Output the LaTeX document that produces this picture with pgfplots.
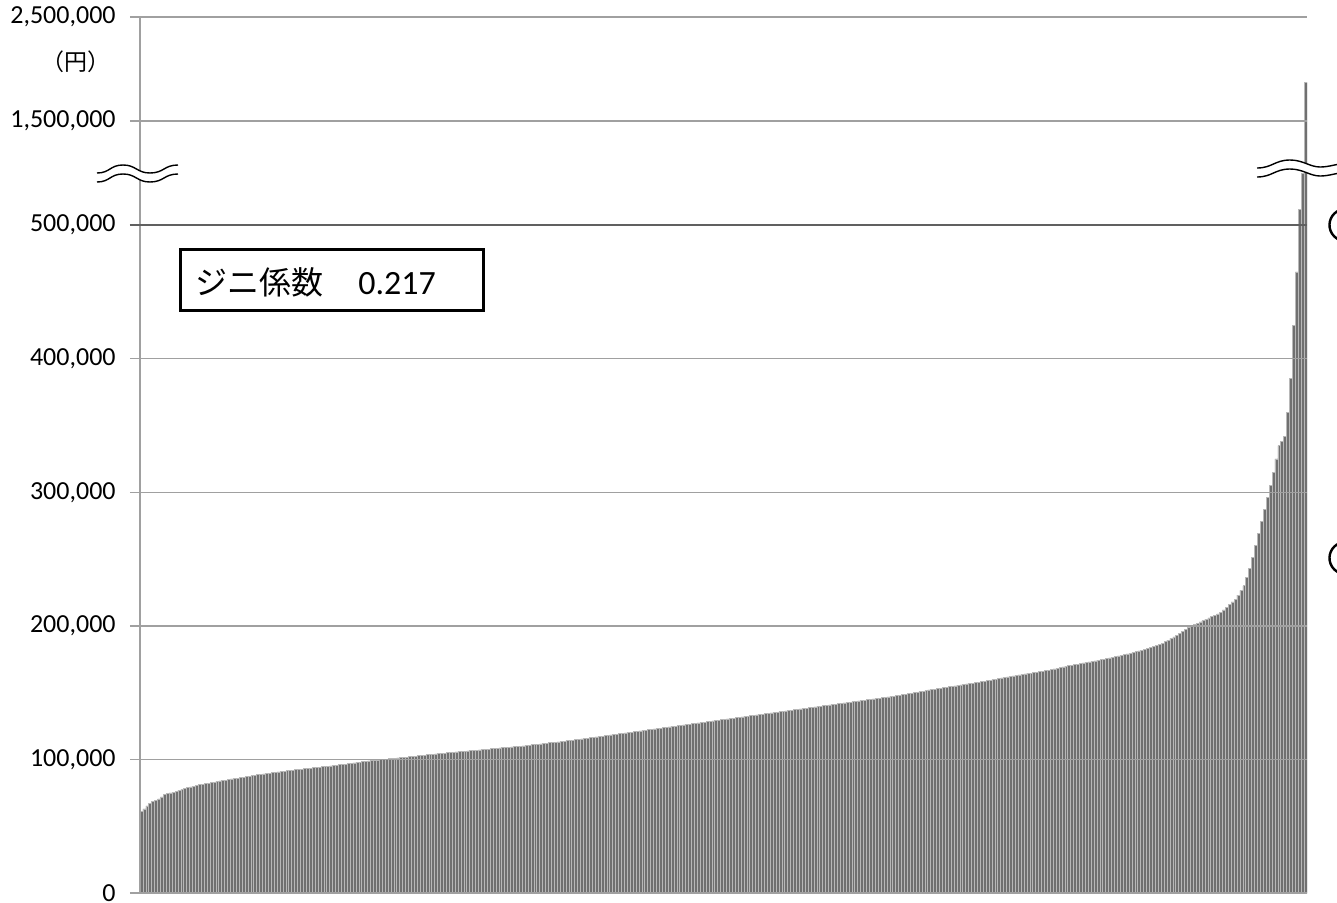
\documentclass[border=0pt]{standalone}
\usepackage{fontspec}
\setmainfont{Carlito}
\newfontfamily\cjk{Noto Sans CJK JP}
\usepackage{pgfplots}
\pgfplotsset{compat=1.18}
\usepackage{pgfplotstable}

\definecolor{bargray}{HTML}{707070}
\definecolor{gapgray}{HTML}{B8B8B8}
\definecolor{gridgray}{HTML}{A0A0A0}
\definecolor{darkline}{HTML}{606060}

% sorted values, thousand yen
\pgfplotstableread{
v
61.0
63.0
65.2
67.0
68.3
69.4
70.4
72.0
73.6
74.5
75.0
75.3
75.8
76.9
77.6
78.2
78.9
79.5
80.1
80.6
81.1
81.5
81.9
82.3
82.7
83.1
83.5
83.9
84.3
84.6
85.0
85.4
85.7
86.0
86.4
86.7
87.1
87.5
87.8
88.2
88.5
88.8
89.1
89.4
89.7
90.1
90.4
90.7
91.0
91.3
91.5
91.8
92.0
92.3
92.5
92.8
93.0
93.3
93.5
93.8
94.0
94.2
94.5
94.7
95.0
95.2
95.5
95.8
96.0
96.3
96.5
96.8
97.1
97.4
97.7
98.0
98.3
98.6
98.9
99.2
99.5
99.7
99.9
100.1
100.3
100.5
100.7
100.9
101.1
101.3
101.5
101.8
102.0
102.3
102.5
102.8
103.0
103.3
103.5
103.8
104.0
104.2
104.4
104.6
104.8
105.0
105.2
105.4
105.6
105.8
106.0
106.2
106.4
106.6
106.8
107.0
107.2
107.4
107.6
107.8
108.0
108.2
108.4
108.6
108.8
109.0
109.2
109.4
109.6
109.8
110.0
110.2
110.5
110.7
111.0
111.2
111.5
111.7
112.0
112.2
112.5
112.7
113.0
113.2
113.5
113.7
114.0
114.2
114.5
114.7
115.0
115.3
115.6
115.9
116.2
116.5
116.8
117.1
117.4
117.7
118.0
118.3
118.6
118.9
119.2
119.5
119.8
120.1
120.4
120.7
121.0
121.3
121.6
121.9
122.2
122.5
122.8
123.1
123.4
123.7
124.0
124.3
124.6
124.9
125.2
125.5
125.8
126.1
126.4
126.7
127.0
127.3
127.6
127.9
128.2
128.5
128.8
129.1
129.4
129.7
130.0
130.3
130.6
130.9
131.2
131.5
131.8
132.1
132.4
132.7
133.0
133.3
133.6
133.9
134.2
134.5
134.8
135.1
135.4
135.7
136.0
136.3
136.6
136.9
137.2
137.5
137.8
138.1
138.4
138.7
139.0
139.3
139.6
139.9
140.2
140.5
140.8
141.1
141.4
141.7
142.0
142.3
142.6
142.9
143.2
143.5
143.8
144.1
144.4
144.7
145.0
145.3
145.6
145.9
146.2
146.5
146.8
147.1
147.4
147.7
148.0
148.4
148.8
149.2
149.6
150.0
150.4
150.8
151.2
151.6
152.0
152.3
152.7
153.0
153.4
153.7
154.1
154.4
154.8
155.1
155.5
155.8
156.2
156.5
156.9
157.2
157.6
157.9
158.3
158.6
159.0
159.4
159.8
160.2
160.6
161.0
161.4
161.8
162.2
162.6
163.0
163.3
163.7
164.0
164.4
164.7
165.1
165.4
165.8
166.1
166.5
166.9
167.4
167.8
168.3
168.7
169.2
169.6
170.1
170.5
171.0
171.4
171.8
172.2
172.6
173.0
173.4
173.8
174.2
174.6
175.0
175.5
176.0
176.5
177.0
177.5
178.0
178.5
179.0
179.5
180.0
180.6
181.2
181.9
182.6
183.3
184.0
184.7
185.4
186.2
187.0
188.2
189.4
190.6
191.8
193.0
194.4
195.8
197.2
198.6
200.0
201.0
202.0
203.0
204.0
205.0
206.0
207.0
208.0
209.0
210.0
212.0
214.0
216.0
218.0
220.0
223.0
226.5
230.0
236.0
243.0
251.0
260.0
269.0
278.0
287.0
296.0
305.0
315.0
325.0
335.0
338.0
342.0
360.0
385.0
425.0
465.0
650.0
1000.0
1870.0
}\incomes

\begin{document}
\begin{tikzpicture}
\begin{axis}[
  at={(0,0)}, anchor=south west,
  scale only axis, width=583.5pt, height=438pt,
  xmin=-0.5, xmax=399.5, ymin=0, ymax=655.8,
  ybar, bar width=1,
  % values above 500 are drawn on the compressed upper scale
  y filter/.expression={y>500 ? 500+(y-500)*0.0779 : y},
  ytick={0,100,200,300,400,500,577.9,655.8},
  yticklabels={{0},{100,000},{200,000},{300,000},{400,000},{500,000},{1,500,000},{2,500,000}},
  scaled y ticks=false,
  xtick=\empty,
  axis on top,
  ymajorgrids,
  grid style={draw=gridgray, line width=0.75pt},
  axis x line*=bottom, axis y line*=left,
  axis line style={-, draw=gridgray, line width=0.75pt},
  tick align=outside, major tick length=5pt,
  ytick style={draw=gridgray, line width=0.75pt},
  yticklabel style={font=\fontsize{13}{15}\selectfont, text=black, xshift=-7pt, inner sep=0pt},
]
\addplot[fill=bargray, draw=gapgray, line width=0.3pt] table[x expr=\coordindex, y=v] {\incomes};
\end{axis}

% pixel frame of the reference (1 px = 0.5 pt, y downwards)
\begin{scope}[x=0.5pt, y=-0.5pt, shift={(-70pt,446.5pt)}]
  \draw[darkline, line width=0.9pt] (130,225) -- (1307,225);
  \node[font=\cjk\fontsize{11.5}{13}\selectfont] at (76,62) {（円）};
  % break marks
  \fill[white] (97,173) .. controls (110,173) and (110,165) .. (123,165)
      .. controls (136,165) and (137,173) .. (150,173)
      .. controls (164,173) and (164,165) .. (178,165)
      -- (178,174) .. controls (164,174) and (164,182) .. (150,182)
      .. controls (137,182) and (136,174) .. (123,174)
      .. controls (110,174) and (110,182) .. (97,182) -- cycle;
  \draw[line width=0.7pt] (97,173) .. controls (110,173) and (110,165) .. (123,165)
      .. controls (136,165) and (137,173) .. (150,173)
      .. controls (164,173) and (164,165) .. (178,165);
  \draw[line width=0.7pt] (97,182) .. controls (110,182) and (110,174) .. (123,174)
      .. controls (136,174) and (137,182) .. (150,182)
      .. controls (164,182) and (164,174) .. (178,174);
  \fill[white] (1257,168) .. controls (1272,168) and (1275,160) .. (1290,160)
      .. controls (1303,160) and (1310,167) .. (1320,167)
      .. controls (1328,167) and (1333,165) .. (1340,164)
      -- (1340,173) .. controls (1333,174) and (1328,176) .. (1320,176)
      .. controls (1310,176) and (1303,169) .. (1290,169)
      .. controls (1275,169) and (1272,177) .. (1257,177) -- cycle;
  \draw[line width=0.7pt] (1257,168) .. controls (1272,168) and (1275,160) .. (1290,160)
      .. controls (1303,160) and (1310,167) .. (1320,167)
      .. controls (1328,167) and (1333,165) .. (1340,164);
  \draw[line width=0.7pt] (1257,177) .. controls (1272,177) and (1275,169) .. (1290,169)
      .. controls (1303,169) and (1310,176) .. (1320,176)
      .. controls (1328,176) and (1333,174) .. (1340,173);
  % Gini box
  \draw[line width=1.5pt, fill=white] (180,249) rectangle (483,310);
  \node[anchor=base west, inner sep=0pt, font=\cjk\fontsize{16}{18}\selectfont] at (195,294) {ジニ係数};
  \node[anchor=base west, inner sep=0pt, font=\fontsize{17}{19}\selectfont] at (358,294) {0.217};
  % cut-off marks at the right edge
  \draw[line width=1.2pt] (1340,210) arc[start angle=110, end angle=250, radius=8pt];
  \draw[line width=1.2pt] (1340,543) arc[start angle=110, end angle=250, radius=8pt];
  \pgfresetboundingbox
  \useasboundingbox (0,0) rectangle (1337,902);
\end{scope}
\end{tikzpicture}
\end{document}
